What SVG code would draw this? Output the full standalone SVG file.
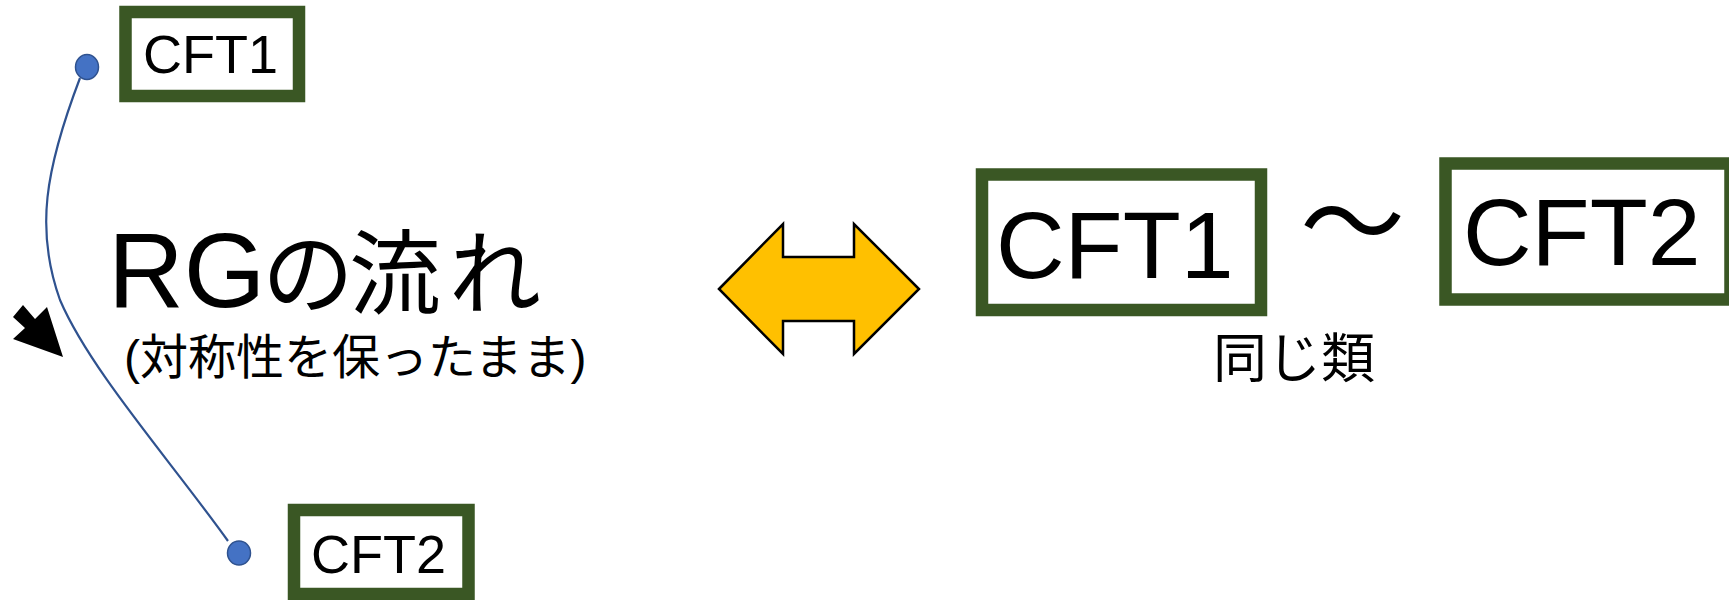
<svg xmlns="http://www.w3.org/2000/svg" width="1729" height="600" viewBox="0 0 1729 600">
<style>
.box{fill:#fff;stroke:#3A5724;stroke-width:12.5}
.lbl{font-family:"Liberation Sans","Noto Sans CJK JP",sans-serif;fill:#000}
.jp{font-family:"Noto Sans CJK JP","Liberation Sans",sans-serif;fill:#000}
.dot{fill:#4472C4;stroke:#2F528F;stroke-width:1.5}
</style>
<rect width="1729" height="600" fill="#fff"/>
<g id="connectors">
<path d="M80,78 C45,170 35,230 60,300 C90,370 170,460 228,541" fill="none" stroke="#2F528F" stroke-width="2.2"/>
</g>
<g id="flow-arrow">
<polygon points="63,357 47,307 35,319 23,305 13,317 25,328 13,339" fill="#000"/>
</g>
<g id="dot1"><ellipse class="dot" cx="87" cy="67" rx="11.5" ry="12.5"/></g>
<g id="dot2"><ellipse class="dot" cx="239" cy="553" rx="11.5" ry="12"/></g>
<g id="cft1-small">
<rect class="box" x="125.5" y="12" width="173.5" height="84"/>
<text class="lbl" x="143" y="73" font-size="54">CFT1</text>
</g>
<g id="cft2-small">
<rect class="box" x="294" y="510" width="174.5" height="84"/>
<text class="lbl" x="311" y="573" font-size="54">CFT2</text>
</g>
<g id="rg-label">
<text class="lbl" x="108" y="307" font-size="105">RG<tspan class="jp" font-size="92" x="262 349 449">の流れ</tspan></text>
<text class="lbl" x="124" y="374" font-size="48">(対称性を保ったまま)</text>
</g>
<g id="double-arrow">
<polygon points="719,289 783,224 783,257 854,257 854,224 919,289 854,354 854,321 783,321 783,354" fill="#FFC000" stroke="#000" stroke-width="2.5" stroke-linejoin="miter"/>
</g>
<g id="cft1-big">
<rect class="box" x="982" y="174.5" width="279" height="135.5"/>
<text class="lbl" x="996" y="278" font-size="95">CFT1</text>
</g>
<g id="tilde">
<text class="jp" x="1300" y="260" font-size="105">～</text>
</g>
<g id="cft2-big">
<rect class="box" x="1445.5" y="163.5" width="285" height="136"/>
<text class="lbl" x="1463" y="265" font-size="95">CFT2</text>
</g>
<g id="same-class">
<text class="jp" x="1213" y="378" font-size="54">同じ類</text>
</g>
</svg>
